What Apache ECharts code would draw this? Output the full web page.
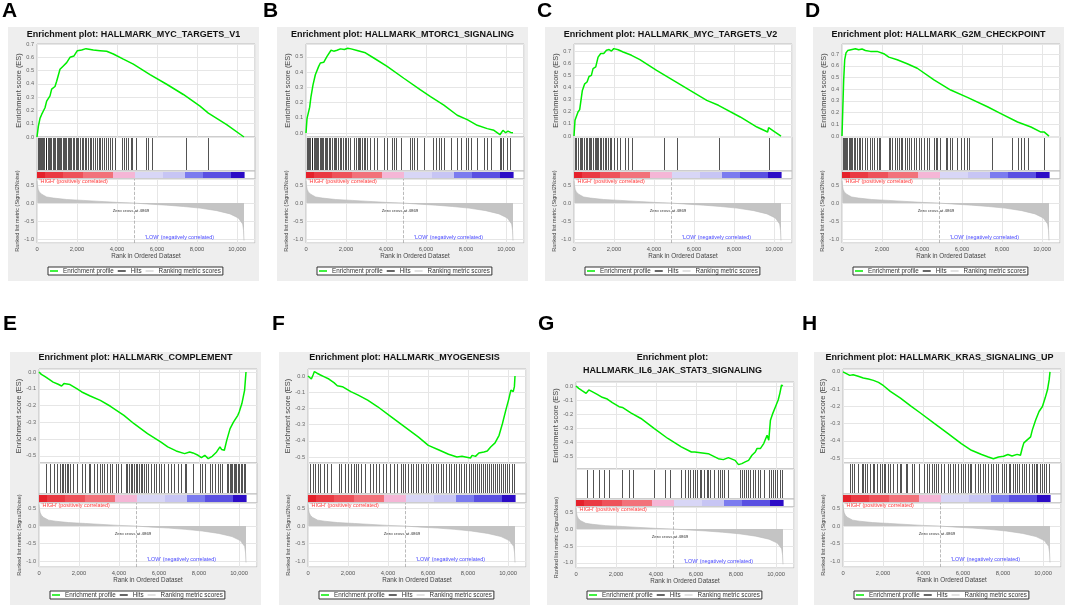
<!DOCTYPE html>
<html>
<head>
<meta charset="utf-8">
<title>GSEA enrichment plots</title>
<script src="https://cdn.jsdelivr.net/npm/echarts@6/dist/echarts.min.js"></script>
<style>
  html, body { margin: 0; padding: 0; background: #fff; }
  #main { width: 1065px; height: 605px; }
</style>
</head>
<body>
<div id="main"></div>
<script>
// ---- data ----
const panelLetters = ['A', 'B', 'C', 'D', 'E', 'F', 'G', 'H'];
const geneSetTitles = [
  'Enrichment plot: HALLMARK_MYC_TARGETS_V1',
  'Enrichment plot: HALLMARK_MTORC1_SIGNALING',
  'Enrichment plot: HALLMARK_MYC_TARGETS_V2',
  'Enrichment plot: HALLMARK_G2M_CHECKPOINT',
  'Enrichment plot: HALLMARK_COMPLEMENT',
  'Enrichment plot: HALLMARK_MYOGENESIS',
  'Enrichment plot:\nHALLMARK_IL6_JAK_STAT3_SIGNALING',
  'Enrichment plot: HALLMARK_KRAS_SIGNALING_UP'
];
const legendNames = ['Enrichment profile', 'Hits', 'Ranking metric scores'];
const zeroCross = 4869;
const xTickLabels = [0, 2000, 4000, 6000, 8000, 10000];
const esTickLabels = [-0.5, -0.4, -0.3, -0.2, -0.1, 0, 0.1, 0.2, 0.3, 0.4, 0.5, 0.6, 0.7];
const rankTickLabels = [-1.0, -0.5, 0, 0.5];

// running enrichment score, [rank, ES]
const esMycV1 = [[0,0],[67,0.08],[150,0.14],[233,0.17],[400,0.22],[483,0.27],[650,0.31],[733,0.36],[900,0.38],[983,0.42],[1150,0.51],[1317,0.535],[1483,0.56],[1650,0.60],[1850,0.61],[2017,0.65],[2233,0.655],[2450,0.665],[2817,0.655],[3150,0.65],[3483,0.645],[3817,0.625],[4317,0.586],[4817,0.548],[5650,0.47],[6483,0.397],[7317,0.32],[8150,0.232],[8567,0.18],[9483,0.093],[10350,0]];
const esMtorc1 = [[0,0],[50,0.095],[133,0.106],[184,0.17],[250,0.24],[350,0.316],[467,0.383],[634,0.438],[718,0.46],[885,0.465],[1051,0.504],[1252,0.544],[1385,0.538],[1552,0.544],[1719,0.553],[1919,0.549],[2086,0.557],[2253,0.553],[2554,0.542],[2971,0.527],[3388,0.493],[4056,0.438],[4890,0.36],[5725,0.283],[6226,0.239],[6893,0.184],[7561,0.117],[8062,0.088],[8563,0.051],[9063,0.029],[9397,0.018],[9697,-0.011],[9847,0.018],[9981,0.002],[10097,0.013],[10231,0.004],[10350,0.002]];
const esMycV2 = [[0,0],[50,0.13],[117,0.137],[200,0.198],[284,0.217],[368,0.21],[418,0.376],[535,0.43],[652,0.445],[752,0.49],[869,0.5],[953,0.555],[1087,0.569],[1204,0.65],[1338,0.68],[1488,0.68],[1622,0.706],[1756,0.712],[1873,0.70],[1990,0.72],[2207,0.711],[2458,0.692],[2876,0.665],[3294,0.629],[4130,0.541],[4966,0.459],[5802,0.376],[6638,0.294],[7223,0.253],[7240,0.262],[8310,0.157],[9146,0.074],[9681,0.033],[9731,0.069],[9982,0.041],[10350,0]];
const esG2m = [[0,0],[33,0.19],[84,0.48],[134,0.65],[201,0.71],[284,0.73],[368,0.743],[451,0.737],[535,0.752],[669,0.746],[836,0.737],[1003,0.743],[1170,0.731],[1421,0.723],[1756,0.723],[2090,0.703],[2341,0.674],[2759,0.651],[3260,0.617],[3762,0.579],[4598,0.479],[5434,0.393],[6270,0.33],[7273,0.25],[7942,0.192],[8778,0.12],[9447,0.077],[9948,0.034],[10116,0.034],[10350,0]];
const esComplement = [[0,0],[118,-0.014],[286,-0.026],[455,-0.04],[539,-0.034],[708,-0.06],[960,-0.073],[1129,-0.083],[1247,-0.069],[1550,-0.075],[1887,-0.099],[2140,-0.119],[2561,-0.143],[3067,-0.169],[3572,-0.204],[4246,-0.258],[4752,-0.308],[5426,-0.367],[6100,-0.417],[6437,-0.446],[6858,-0.47],[7279,-0.486],[7532,-0.476],[7700,-0.482],[7953,-0.496],[8122,-0.51],[8290,-0.496],[8459,-0.516],[8661,-0.502],[8880,-0.476],[9048,-0.446],[9133,-0.462],[9268,-0.466],[9386,-0.407],[9554,-0.337],[9722,-0.298],[9941,-0.258],[10009,-0.238],[10144,-0.188],[10279,-0.109],[10350,0]];
const esMyogenesis = [[0,0],[84,-0.008],[168,-0.019],[253,0.006],[320,0.027],[455,0.017],[623,0.006],[792,-0.004],[1045,-0.019],[1297,-0.041],[1466,-0.06],[1719,-0.066],[2140,-0.097],[2511,-0.118],[2982,-0.149],[3488,-0.19],[4162,-0.252],[4836,-0.314],[5510,-0.376],[6016,-0.428],[6521,-0.455],[7027,-0.483],[7448,-0.5],[7701,-0.496],[7869,-0.5],[8122,-0.506],[8206,-0.49],[8375,-0.496],[8543,-0.475],[8796,-0.469],[8964,-0.463],[9133,-0.438],[9352,-0.413],[9554,-0.366],[9723,-0.293],[9891,-0.211],[10026,-0.149],[10144,-0.087],[10262,-0.097],[10320,-0.066],[10350,0]];
const esIl6Jak = [[0,0],[135,-0.017],[303,-0.033],[505,-0.052],[639,-0.028],[807,-0.04],[1060,-0.059],[1312,-0.08],[1564,-0.092],[1817,-0.118],[2153,-0.146],[2321,-0.151],[2742,-0.189],[3246,-0.229],[3919,-0.3],[4592,-0.37],[5265,-0.429],[5769,-0.465],[5937,-0.465],[6610,-0.477],[7115,-0.512],[7367,-0.519],[7619,-0.505],[7956,-0.524],[8124,-0.554],[8292,-0.547],[8460,-0.535],[8629,-0.524],[8797,-0.488],[8965,-0.465],[9049,-0.441],[9217,-0.441],[9386,-0.406],[9554,-0.347],[9638,-0.382],[9722,-0.241],[9840,-0.193],[9974,-0.146],[10109,-0.099],[10193,-0.052],[10277,0.007],[10344,0]];
const esKrasUp = [[0,0],[169,-0.01],[338,-0.02],[507,-0.016],[760,-0.025],[1014,-0.035],[1268,-0.041],[1521,-0.049],[1775,-0.061],[2028,-0.08],[2366,-0.113],[2873,-0.152],[3380,-0.197],[3887,-0.24],[4563,-0.299],[5239,-0.357],[5915,-0.416],[6422,-0.455],[6929,-0.48],[7267,-0.494],[7521,-0.504],[7774,-0.494],[8028,-0.49],[8247,-0.48],[8450,-0.488],[8704,-0.479],[8873,-0.484],[8957,-0.445],[9042,-0.412],[9380,-0.377],[9464,-0.338],[9633,-0.279],[9802,-0.23],[9971,-0.201],[10106,-0.152],[10225,-0.104],[10309,-0.045],[10350,0]];

// gene set member positions in the ranked list
const hitsMycV1 = [35,80,140,180,250,300,360,430,470,540,610,650,720,800,840,910,990,1040,1100,1170,1220,1290,1350,1390,1470,1540,1580,1660,1720,1800,1850,1930,1990,2070,2150,2230,2300,2390,2460,2560,2640,2720,2810,2890,2990,3080,3160,3260,3370,3450,3560,3650,3760,3900,4230,4350,4450,4570,4680,4770,4950,5430,5570,5770,7430,8530];
const hitsMtorc1 = [50,110,160,220,280,320,380,450,500,560,620,680,740,800,870,930,990,1060,1130,1200,1300,1380,1470,1520,1600,1700,1760,1850,1950,2020,2100,2180,2400,2480,2580,2650,2720,2800,2880,2960,3050,3220,3390,3550,3890,4060,4310,4420,4520,4760,5220,5310,5390,5560,5890,6330,6480,6640,6760,6890,7230,7560,7760,7980,8100,8230,8560,8900,9060,9260,9700,9760,9860,10060,10200];
const hitsMycV2 = [33,117,200,284,368,418,502,585,652,736,786,870,953,1037,1120,1154,1204,1288,1371,1455,1538,1622,1706,1789,1873,1990,2157,2291,2541,2709,2876,4498,5133,7256,9731];
const hitsG2m = [33,90,150,210,270,330,385,440,502,585,635,752,836,920,1003,1137,1254,1421,1505,1588,1756,1839,1923,2341,2424,2508,2625,2759,2842,2926,3010,3127,3260,3344,3428,3595,3678,3846,3963,4096,4230,4347,4598,4682,4765,4899,5183,5267,5401,5518,5768,5936,6103,6270,6354,7524,8477,8778,8945,9112,9280,10116];
const hitsComplement = [371,573,741,876,1045,1146,1213,1297,1382,1466,1550,1719,1887,2140,2308,2477,2561,2763,2898,3033,3151,3235,3404,3539,3656,3825,3943,4078,4330,4415,4499,4583,4668,4752,4836,4920,5004,5089,5173,5257,5341,5426,5594,5729,5847,6015,6100,6268,6437,6605,6774,6942,7111,7279,7363,7700,8037,8155,8290,8543,8627,8796,8964,9048,9166,9386,9470,9554,9605,9672,9739,9807,9874,9941,10009,10076,10144,10228,10312];
const hitsMyogenesis = [118,236,371,489,623,792,960,1163,1550,1634,1837,2005,2140,2275,2393,2511,2645,2848,3117,3235,3404,3572,3741,3909,4078,4297,4465,4667,4752,4870,5004,5139,5257,5375,5510,5645,5763,5881,6015,6150,6268,6386,6521,6656,6774,6909,7027,7161,7279,7397,7532,7667,7785,7903,8037,8138,8240,8341,8442,8543,8644,8745,8846,8947,9048,9150,9251,9352,9453,9554,9655,9756,9857,9958,10059,10194,10312];
const hitsIl6Jak = [555,841,1144,1396,1648,2288,2658,2826,3919,4457,4676,5265,5433,5601,5719,5853,5971,6072,6190,6274,6408,6526,6610,6694,6913,7115,7199,7317,7418,7619,8208,8292,8376,8494,8595,8713,8831,8965,9100,9217,9386,9638,9739,9840,9941,10058,10176,10277];
const hitsKrasUp = [338,473,558,761,930,1014,1099,1183,1352,1487,1572,1690,1859,1944,2028,2113,2231,2366,2501,2704,2839,2924,3127,3211,3465,3549,3803,4056,4191,4310,4428,4529,4648,4766,4901,5070,5239,5357,5493,5611,5746,5881,6000,6118,6253,6338,6422,6591,6726,6845,7014,7098,7267,7402,7521,7639,7774,7943,8028,8146,8281,8366,8484,8619,8704,8822,8957,9042,9160,9295,9464,9549,9633,9718,9836,9937,10056,10140,10309];

// ranked list metric (Signal2Noise), shared by all panels
const rankMetric = [[0,0.62],[20,0.5],[60,0.38],[117,0.31],[233,0.245],[483,0.17],[817,0.14],[1483,0.10],[2317,0.075],[3150,0.047],[3983,0.02],[4869,0],[5650,-0.03],[6483,-0.057],[7317,-0.094],[8150,-0.14],[8983,-0.21],[9650,-0.3],[10067,-0.415],[10283,-0.58],[10330,-0.77],[10350,-1.04]];

// red-to-blue heat bar under the hits: [startRank, endRank, colour]
const colorBarSegments = [
  [0, 400, '#e5212b'], [400, 1300, '#ea3a43'], [1300, 2300, '#ee525a'], [2300, 3800, '#f2727a'],
  [3800, 4900, '#f5b6d6'], [4900, 6300, '#d8d6f6'], [6300, 7400, '#c7c5f4'],
  [7400, 8300, '#7b7bef'], [8300, 9700, '#5a50e2'], [9700, 10350, '#2c0cc6']
];

// ---- layout ----
const FONT = "'Liberation Sans', Arial, sans-serif";
const X_MAX = 10900;
const PLOT_W = 218;
const rows = {
  top:    { bgTop: 27,  bgBottom: 281, letterY: 1,   titleY: 35,    es: [44, 137],  hits: [137, 171], bar: [171, 179], rank: [179, 243], rankRange: [-1.11, 0.67], legendTop: 267, xNameGap: 10 },
  bottom: { bgTop: 352, bgBottom: 605, letterY: 314, titleY: 358,   es: [369, 463], hits: [463, 494], bar: [494, 503], rank: [503, 567], rankRange: [-1.17, 0.66], legendTop: 591, xNameGap: 9 },
  twoLine:{ bgTop: 352, bgBottom: 605, letterY: 314, titleY: 364.5, es: [382, 469], hits: [469, 499], bar: [499, 507], rank: [507, 568], rankRange: [-1.15, 0.65], legendTop: 591, xNameGap: 9 }
};
const panels = [
  { es: esMycV1,      hits: hitsMycV1,      left: 37,  letterX: 2,   row: 'top',     esRange: [0, 0.7] },
  { es: esMtorc1,     hits: hitsMtorc1,     left: 306, letterX: 263, row: 'top',     esRange: [-0.026, 0.585] },
  { es: esMycV2,      hits: hitsMycV2,      left: 574, letterX: 537, row: 'top',     esRange: [-0.008, 0.758] },
  { es: esG2m,        hits: hitsG2m,        left: 842, letterX: 805, row: 'top',     esRange: [-0.008, 0.786] },
  { es: esComplement, hits: hitsComplement, left: 39,  letterX: 3,   row: 'bottom',  esRange: [-0.542, 0.018] },
  { es: esMyogenesis, hits: hitsMyogenesis, left: 308, letterX: 272, row: 'bottom',  esRange: [-0.537, 0.043] },
  { es: esIl6Jak,     hits: hitsIl6Jak,     left: 576, letterX: 538, row: 'twoLine', esRange: [-0.585, 0.028] },
  { es: esKrasUp,     hits: hitsKrasUp,     left: 843, letterX: 802, row: 'bottom',  esRange: [-0.529, 0.017] }
];

const inList = (list, v) => list.some(t => Math.abs(t - v) < 1e-6);
const fmtNum = v => (Math.abs(v) < 1e-9 ? 0 : v).toFixed(1);
const fmtRank = v => inList(xTickLabels, v) ? String(v).replace(/\B(?=(\d{3})+(?!\d))/g, ',') : '';

function renderHit(params, api) {
  const cs = params.coordSys;
  const x = Math.round(api.coord([api.value(0), 0])[0]) + 0.5;
  return {
    type: 'line',
    shape: { x1: x, y1: cs.y + 1, x2: x, y2: cs.y + cs.height - 1 },
    style: { stroke: '#111', lineWidth: 1, opacity: 0.72 }
  };
}

function renderSegment(params, api) {
  const cs = params.coordSys;
  const x0 = api.coord([api.value(0), 0])[0];
  const x1 = api.coord([api.value(1), 0])[0];
  return {
    type: 'rect',
    shape: { x: x0, y: cs.y + 1, width: x1 - x0 + 0.6, height: cs.height - 2 },
    style: { fill: colorBarSegments[params.dataIndex][2] }
  };
}

const grid = [], xAxis = [], yAxis = [], series = [], legend = [], graphic = [];
const gridLine = { lineStyle: { color: '#e6e6e6', width: 1 } };

panels.forEach((p, i) => {
  const L = rows[p.row];
  const g = i * 4;
  const bgLeft = p.left - 29;
  const band = t => ({
    left: p.left, width: PLOT_W, top: t[0], height: t[1] - t[0],
    show: true, backgroundColor: '#fff', borderColor: '#bdbdbd', borderWidth: 1,
    containLabel: false, outerBoundsMode: 'none'
  });
  grid.push(band(L.es), band(L.hits), band(L.bar), band(L.rank));

  // ES plot
  xAxis.push({ gridIndex: g, type: 'value', min: 0, max: X_MAX, interval: 2000,
    axisLabel: { show: false }, axisTick: { show: false }, axisLine: { show: false }, splitLine: gridLine });
  yAxis.push({ gridIndex: g, type: 'value', min: p.esRange[0], max: p.esRange[1], splitNumber: 6,
    axisLine: { show: false }, axisTick: { show: false }, splitLine: gridLine,
    axisLabel: { fontSize: 5.6, color: '#666', margin: 3, fontFamily: FONT,
      formatter: v => inList(esTickLabels, v) ? fmtNum(v) : '' },
    name: 'Enrichment score (ES)', nameLocation: 'middle', nameGap: 12,
    nameTextStyle: { fontSize: 7.4, color: '#444', fontFamily: FONT } });

  // hits and heat bar
  [g + 1, g + 2].forEach(k => {
    xAxis.push({ gridIndex: k, type: 'value', min: 0, max: X_MAX, show: false });
    yAxis.push({ gridIndex: k, type: 'value', min: 0, max: 1, show: false });
  });

  // ranked list metric
  xAxis.push({ gridIndex: g + 3, type: 'value', min: 0, max: X_MAX, interval: 2000,
    axisLine: { show: false }, axisTick: { show: false }, splitLine: gridLine,
    axisLabel: { fontSize: 5.8, color: '#555', margin: 3, fontFamily: FONT, formatter: fmtRank },
    name: 'Rank in Ordered Dataset', nameLocation: 'middle', nameGap: L.xNameGap,
    nameTextStyle: { fontSize: 6.3, color: '#444', fontFamily: FONT } });
  yAxis.push({ gridIndex: g + 3, type: 'value', min: L.rankRange[0], max: L.rankRange[1], splitNumber: 3,
    axisLine: { show: false }, axisTick: { show: false }, splitLine: gridLine,
    axisLabel: { fontSize: 5.6, color: '#666', margin: 3, fontFamily: FONT,
      formatter: v => inList(rankTickLabels, v) ? fmtNum(v) : '' },
    name: 'Ranked list metric (Signal2Noise)', nameLocation: 'middle', nameGap: 12,
    nameTextStyle: { fontSize: 5.5, color: '#444', fontFamily: FONT } });

  series.push({
    type: 'line', name: legendNames[0], xAxisIndex: g, yAxisIndex: g, data: p.es,
    symbol: 'none', lineStyle: { color: '#00ee00', width: 1.5 }, itemStyle: { color: '#00ee00' },
    silent: true, z: 3
  });
  series.push({
    type: 'custom', name: legendNames[1], xAxisIndex: g + 1, yAxisIndex: g + 1,
    data: p.hits.map(r => [r, 0.5]), renderItem: renderHit, itemStyle: { color: '#222' }, silent: true
  });
  series.push({
    type: 'custom', name: 'heat', xAxisIndex: g + 2, yAxisIndex: g + 2,
    data: colorBarSegments.map(s => [s[0], s[1], 0.5]), encode: { x: [0, 1], y: 2 },
    renderItem: renderSegment, silent: true
  });
  const label = (text, color, pos, size) => ({
    show: true, formatter: text, position: pos, distance: 0, color: color,
    fontSize: size, fontFamily: FONT
  });
  series.push({
    type: 'line', name: legendNames[2], xAxisIndex: g + 3, yAxisIndex: g + 3, data: rankMetric,
    symbol: 'none', lineStyle: { color: '#b8b8b8', width: 0.6 }, itemStyle: { color: '#d6d6d6' },
    areaStyle: { color: '#c4c4c4', opacity: 1 }, silent: true,
    markLine: {
      silent: true, symbol: ['none', 'none'], label: { show: false },
      lineStyle: { type: 'dashed', color: '#aaa', width: 0.8 },
      data: [{ xAxis: zeroCross }]
    },
    markPoint: {
      silent: true, symbol: 'circle', symbolSize: 1, itemStyle: { color: 'rgba(0,0,0,0)' },
      data: [
        { coord: [100, L.rankRange[1] - 0.08], label: label("'HIGH' (positively correlated)", '#ff3b3b', 'right', 5.4) },
        { coord: [zeroCross - 170, -0.22], label: label('Zero cross at ' + zeroCross, '#333', 'inside', 4.4) },
        { coord: [8880, -0.97], label: label("'LOW' (negatively correlated)", '#4848ff', 'left', 5.4) }
      ]
    }
  });

  legend.push({
    left: bgLeft + 40, top: L.legendTop, orient: 'horizontal', selectedMode: false,
    data: [
      { name: legendNames[0], icon: 'rect', itemStyle: { color: '#00ee00' } },
      { name: legendNames[1], icon: 'rect', itemStyle: { color: '#333' } },
      { name: legendNames[2], icon: 'rect', itemStyle: { color: '#d8d8d8' } }
    ],
    itemWidth: 8, itemHeight: 1.5, itemGap: 4, padding: [1, 2],
    borderColor: '#333', borderWidth: 1, backgroundColor: '#fff', borderRadius: 0,
    textStyle: { fontSize: 6.3, color: '#333', fontFamily: FONT }
  });

  graphic.push({
    type: 'rect', z: -10, silent: true,
    shape: { x: bgLeft, y: L.bgTop, width: 251, height: L.bgBottom - L.bgTop },
    style: { fill: '#eeeeee' }
  });
  graphic.push({
    type: 'text', z: 100, x: p.letterX, y: L.letterY, silent: true,
    style: { text: panelLetters[i], font: 'bold 21px ' + FONT, fill: '#000',
      align: 'left', verticalAlign: 'top', textAlign: 'left', textVerticalAlign: 'top' }
  });
  graphic.push({
    type: 'text', z: 100, x: bgLeft + 125.5, y: L.titleY, silent: true,
    style: { text: geneSetTitles[i], font: 'bold 9px ' + FONT, fill: '#111', lineHeight: 13,
      align: 'center', verticalAlign: 'middle', textAlign: 'center', textVerticalAlign: 'middle' }
  });
});

const chart = echarts.init(document.getElementById('main'));
chart.setOption({
  animation: false,
  backgroundColor: '#fff',
  textStyle: { fontFamily: FONT },
  grid, xAxis, yAxis, series, legend, graphic
});
window.addEventListener('resize', chart.resize);
</script>
</body>
</html>
